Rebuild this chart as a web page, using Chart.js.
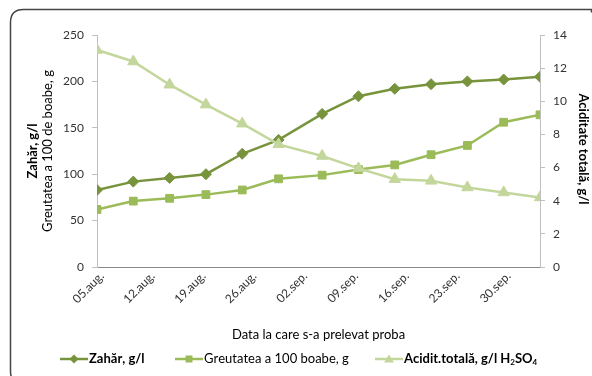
<!DOCTYPE html>
<html>
<head>
<meta charset="utf-8">
<script src="https://cdn.jsdelivr.net/npm/chart.js@4/dist/chart.umd.min.js"></script>
<style>
  html, body { margin: 0; padding: 0; background: #fff; overflow: hidden; }
  #chart { display: block; }
</style>
</head>
<body>
<canvas id="chart" width="592" height="376"></canvas>
<script>
// date prelevare probe
const sampleDates = [
  "2010-08-05", "2010-08-10", "2010-08-15", "2010-08-20", "2010-08-25", "2010-08-30",
  "2010-09-05", "2010-09-10", "2010-09-15", "2010-09-20", "2010-09-25", "2010-09-30", "2010-10-05",
];
const zahar = [83, 92, 96, 100, 122, 137, 165, 184, 192, 197, 200, 202, 205];
const greutatea = [62, 71, 74, 78, 83, 95, 99, 105, 110, 121, 131, 156, 164];
const aciditate = [13.1, 12.4, 11.0, 9.8, 8.65, 7.4, 6.7, 5.95, 5.3, 5.2, 4.8, 4.5, 4.2];

// etichete axa X (saptamanal)
const tickDates = [
  "2010-08-05", "2010-08-12", "2010-08-19", "2010-08-26", "2010-09-02",
  "2010-09-09", "2010-09-16", "2010-09-23", "2010-09-30",
];
const tickLabels = [
  "05.aug.", "12.aug.", "19.aug.", "26.aug.", "02.sep.",
  "09.sep.", "16.sep.", "23.sep.", "30.sep.",
];

const COL_ZAHAR = "#77933C";
const COL_GREUT = "#9BBB59";
const COL_ACID = "#C3D69B";
const FONT = "Lato, 'Open Sans', sans-serif";

function dayOffset(d) {
  return (Date.parse(d) - Date.parse(sampleDates[0])) / 86400000;
}

function toPoints(values) {
  return values.map((v, i) => ({ x: dayOffset(sampleDates[i]), y: v }));
}

/** marker pentru legenda */
function drawMarker(ctx, style, x, y, color) {
  ctx.fillStyle = color;
  ctx.beginPath();
  if (style === "diamond") {
    ctx.moveTo(x, y - 4.5); ctx.lineTo(x + 4.5, y); ctx.lineTo(x, y + 4.5); ctx.lineTo(x - 4.5, y);
  } else if (style === "square") {
    ctx.rect(x - 3.5, y - 3.5, 7, 7);
  } else {
    ctx.moveTo(x, y - 4.5); ctx.lineTo(x + 5, y + 3.5); ctx.lineTo(x - 5, y + 3.5);
  }
  ctx.closePath();
  ctx.fill();
}

/** text cu indici (H₂SO₄) */
function drawSubText(ctx, text, x, y, size, weight) {
  const subs = { "₂": "2", "₄": "4" };
  let cx = x;
  for (const ch of text) {
    if (subs[ch]) {
      ctx.font = `${weight} ${Math.round(size * 0.65)}px ${FONT}`;
      ctx.fillText(subs[ch], cx, y + 3);
      cx += ctx.measureText(subs[ch]).width;
    } else {
      ctx.font = `${weight} ${size}px ${FONT}`;
      ctx.fillText(ch, cx, y);
      cx += ctx.measureText(ch).width;
    }
  }
}

/** chenar rotunjit in jurul graficului */
const framePlugin = {
  id: "frame",
  beforeDraw(chart) {
    const ctx = chart.ctx;
    const l = 10.5, t = 9.5, r = 591.5, b = 384, rad = 13;
    ctx.save();
    ctx.strokeStyle = "#444";
    ctx.lineWidth = 1.5;
    ctx.beginPath();
    ctx.moveTo(r, t + 3);
    ctx.lineTo(r, t);
    ctx.lineTo(l + rad, t);
    ctx.quadraticCurveTo(l, t, l, t + rad);
    ctx.lineTo(l, b - rad);
    ctx.quadraticCurveTo(l, b, l + rad, b);
    ctx.stroke();
    ctx.restore();
  },
};

const titlesPlugin = {
  id: "titles",
  afterDraw(chart) {
    const ctx = chart.ctx;
    const area = chart.chartArea;
    const midY = (area.top + area.bottom) / 2;
    ctx.save();
    ctx.fillStyle = "#000";
    ctx.textAlign = "center";
    ctx.textBaseline = "middle";

    // titlu axa stanga (doua randuri)
    ctx.save();
    ctx.translate(33, midY);
    ctx.rotate(-Math.PI / 2);
    ctx.font = `bold 13px ${FONT}`;
    ctx.fillText("Zahăr, g/l", 0, 0);
    ctx.restore();
    ctx.save();
    ctx.translate(48, midY);
    ctx.rotate(-Math.PI / 2);
    ctx.font = `13px ${FONT}`;
    ctx.fillText("Greutatea a 100 de boabe, g", 0, 0);
    ctx.restore();

    // titlu axa dreapta
    ctx.save();
    ctx.translate(583, midY - 2);
    ctx.rotate(Math.PI / 2);
    ctx.font = `bold 13px ${FONT}`;
    ctx.fillText("Aciditate totală, g/l", 0, 0);
    ctx.restore();

    // titlu axa X
    ctx.font = `13px ${FONT}`;
    ctx.fillText("Data la care s-a prelevat proba", (area.left + area.right) / 2, 335);

    // legenda
    const items = [
      { x0: 60, style: "diamond", color: COL_ZAHAR, weight: "bold" },
      { x0: 175, style: "square", color: COL_GREUT, weight: "normal" },
      { x0: 375, style: "triangle", color: COL_ACID, weight: "bold" },
    ];
    const ly = 359;
    ctx.textAlign = "left";
    items.forEach((it, i) => {
      ctx.strokeStyle = it.color;
      ctx.lineWidth = 2.5;
      ctx.beginPath();
      ctx.moveTo(it.x0, ly);
      ctx.lineTo(it.x0 + 28, ly);
      ctx.stroke();
      drawMarker(ctx, it.style, it.x0 + 14, ly, it.color);
      ctx.fillStyle = "#000";
      drawSubText(ctx, chart.data.datasets[i].label, it.x0 + 29, ly, 13, it.weight);
    });
    ctx.restore();
  },
};

const tickFont = { family: FONT, size: 12 };

new Chart(document.getElementById("chart").getContext("2d"), {
  type: "line",
  data: {
    datasets: [
      {
        label: "Zahăr, g/l",
        data: toPoints(zahar),
        borderColor: COL_ZAHAR,
        backgroundColor: COL_ZAHAR,
        borderWidth: 2.5,
        pointStyle: "rectRot",
        pointRadius: 5.5,
        pointBorderWidth: 1,
        yAxisID: "y",
        order: 1,
      },
      {
        label: "Greutatea a 100 boabe, g",
        data: toPoints(greutatea),
        borderColor: COL_GREUT,
        backgroundColor: COL_GREUT,
        borderWidth: 2.5,
        pointStyle: "rect",
        pointRadius: 5.5,
        pointBorderWidth: 1,
        yAxisID: "y",
        order: 2,
      },
      {
        label: "Acidit.totală, g/l H₂SO₄",
        data: toPoints(aciditate),
        borderColor: COL_ACID,
        backgroundColor: COL_ACID,
        borderWidth: 2.5,
        pointStyle: "triangle",
        pointRadius: 6.5,
        pointBorderWidth: 1,
        yAxisID: "y1",
        order: 0,
      },
    ],
  },
  options: {
    responsive: false,
    animation: false,
    layout: { padding: { top: 35, left: 0, right: 0, bottom: 0 } },
    plugins: {
      legend: { display: false },
      tooltip: { enabled: false },
    },
    scales: {
      x: {
        type: "linear",
        min: 0,
        max: dayOffset(sampleDates[sampleDates.length - 1]),
        afterBuildTicks: (scale) => {
          scale.ticks = tickDates.map((d) => ({ value: dayOffset(d) }));
        },
        afterFit: (scale) => { scale.height = 376 - 267; },
        ticks: {
          autoSkip: false,
          minRotation: 45,
          maxRotation: 45,
          padding: 2,
          labelOffset: 5,
          color: "#333",
          font: tickFont,
          callback: (v, i) => tickLabels[i],
        },
        grid: { drawOnChartArea: false, drawTicks: false },
        border: { color: "#8a8a8a", width: 1 },
      },
      y: {
        position: "left",
        min: 0,
        max: 250,
        afterFit: (scale) => { scale.width = 97; },
        ticks: { stepSize: 50, padding: 8, color: "#333", font: tickFont },
        grid: { drawOnChartArea: false, tickLength: 5, color: "#bfbfbf" },
        border: { color: "#bfbfbf", width: 1 },
      },
      y1: {
        position: "right",
        min: 0,
        max: 14,
        afterFit: (scale) => { scale.width = 52; },
        ticks: { stepSize: 2, padding: 8, color: "#333", font: tickFont },
        grid: { drawOnChartArea: false, tickLength: 5, color: "#bfbfbf" },
        border: { color: "#bfbfbf", width: 1 },
      },
    },
  },
  plugins: [framePlugin, titlesPlugin],
});
</script>
</body>
</html>
